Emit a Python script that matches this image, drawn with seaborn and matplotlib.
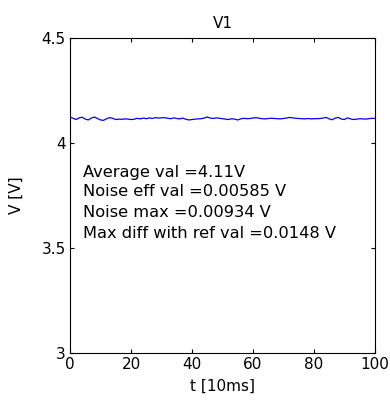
import numpy as np
import pandas as pd
import matplotlib
matplotlib.use("Agg")
import matplotlib.pyplot as plt
import seaborn as sns

# Sampled voltage of channel V1 (one sample every 10 ms)
t = list(range(0, 101))
v1 = [
    4.124, 4.118, 4.112, 4.120, 4.123, 4.114, 4.110, 4.119, 4.124, 4.117, 4.110, 4.108, 4.116,
    4.121, 4.118, 4.112, 4.114, 4.113, 4.115, 4.114, 4.112,
    4.113, 4.118, 4.115, 4.119, 4.116, 4.120, 4.117, 4.121, 4.119, 4.120,
    4.121, 4.118, 4.116, 4.120, 4.117, 4.115, 4.119, 4.113, 4.110, 4.112, 4.114, 4.115, 4.116, 4.119, 4.124,
    4.119, 4.117, 4.120, 4.118, 4.116, 4.114, 4.112, 4.116, 4.114, 4.110,
    4.115, 4.118, 4.116, 4.117, 4.119, 4.121, 4.118, 4.116, 4.115, 4.117,
    4.118, 4.117, 4.116, 4.115, 4.117, 4.119, 4.122, 4.120, 4.118, 4.117,
    4.116, 4.115, 4.117, 4.115, 4.116, 4.116, 4.117, 4.119, 4.122, 4.115,
    4.111, 4.119, 4.122, 4.114, 4.112, 4.120, 4.115, 4.112, 4.114,
    4.116, 4.115, 4.114, 4.116, 4.118, 4.117,
]

stats_lines = [
    "Average val =4.11V",
    "Noise eff val =0.00585 V",
    "Noise max =0.00934 V",
    "Max diff with ref val =0.0148 V",
]

x_ticks = [0, 20, 40, 60, 80, 100]
y_ticks = [3, 3.5, 4, 4.5]
y_tick_labels = ["3", "3.5", "4", "4.5"]

sns.set_style("ticks")
plt.rcParams["font.family"] = ["DejaVu Sans"]
plt.rcParams["font.size"] = 11
plt.rcParams["text.color"] = "black"
plt.rcParams["axes.labelcolor"] = "black"

df = pd.DataFrame({"t": t, "V": v1})

fig = plt.figure(figsize=(3.9, 4.05), dpi=100)
ax = fig.add_axes([0.1795, 0.1284, 0.7820, 0.7776])

sns.lineplot(data=df, x="t", y="V", color=(0, 0, 1), linewidth=0.9, ax=ax)

ax.set_xlim(0, 100)
ax.set_ylim(3, 4.5)
ax.set_xticks(x_ticks)
ax.set_yticks(y_ticks)
ax.set_yticklabels(y_tick_labels)
ax.tick_params(direction="in", top=True, right=True, length=3, width=0.8,
               labelsize=11, pad=3, colors="black")
for s in ax.spines.values():
    s.set_visible(True)
    s.set_linewidth(0.8)
    s.set_color("black")

ax.set_title("V1", fontsize=11, pad=7, color="black")
ax.set_xlabel("t [10ms]", fontsize=11, labelpad=5)
ax.set_ylabel("V [V]", fontsize=11, labelpad=13)

y_text = [3.862, 3.767, 3.671, 3.571]
for line, yv in zip(stats_lines, y_text):
    ax.text(4.3, yv, line, fontsize=11.7, va="center", ha="left", color="black")

fig.savefig("out.png", dpi=100, facecolor="white")
